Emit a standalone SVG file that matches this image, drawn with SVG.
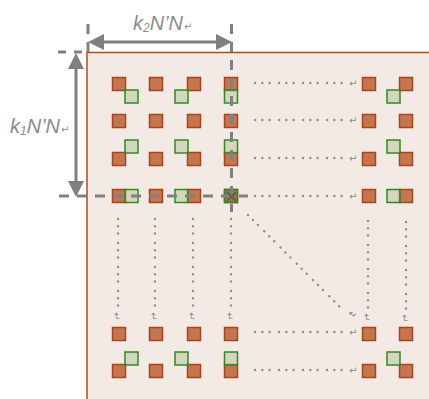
<svg xmlns="http://www.w3.org/2000/svg" width="429" height="399" viewBox="0 0 429 399">
<defs>
<style>
.o{fill:#c4764f;stroke:#a9441c;stroke-width:1.5}
.g{fill:#a8c28c;fill-opacity:0.45;stroke:#2f8a22;stroke-width:1.5}
.dash{stroke:#808080;stroke-width:3;stroke-dasharray:10 8;fill:none}
.dot{stroke:#8f8f8f;stroke-width:2.5;stroke-linecap:round;stroke-dasharray:0 7.3 0 7.3 0 9.4;fill:none}
.arr{stroke:#7f7f7f;stroke-width:3;fill:none}
.ah{fill:#7f7f7f}
.lbl{font-family:"Liberation Sans",Arial,sans-serif;font-style:italic;font-size:20px;fill:#8c8c8c}
.pm{font-family:"DejaVu Sans",sans-serif;font-size:10px;fill:#8a8a8a;font-style:normal}
</style>
</defs>
<rect x="87" y="52.5" width="345" height="350" fill="#f4eae5" stroke="#b34a1f" stroke-width="1.5"/>

<g id="nodes">
<g id="o11"><rect class="o" x="112.5" y="77.5" width="13" height="13"/></g>
<g id="o12"><rect class="o" x="149.5" y="77.5" width="13" height="13"/></g>
<g id="o13"><rect class="o" x="187.5" y="77.5" width="13" height="13"/></g>
<g id="o14"><rect class="o" x="224.5" y="77.5" width="13" height="13"/></g>
<g id="o15"><rect class="o" x="362.5" y="77.5" width="13" height="13"/></g>
<g id="o16"><rect class="o" x="399.5" y="77.5" width="13" height="13"/></g>

<g id="o21"><rect class="o" x="112.5" y="114.5" width="13" height="13"/></g>
<g id="o22"><rect class="o" x="149.5" y="114.5" width="13" height="13"/></g>
<g id="o23"><rect class="o" x="187.5" y="114.5" width="13" height="13"/></g>
<g id="o24"><rect class="o" x="224.5" y="114.5" width="13" height="13"/></g>
<g id="o25"><rect class="o" x="362.5" y="114.5" width="13" height="13"/></g>
<g id="o26"><rect class="o" x="399.5" y="114.5" width="13" height="13"/></g>

<g id="o31"><rect class="o" x="112.5" y="152.5" width="13" height="13"/></g>
<g id="o32"><rect class="o" x="149.5" y="152.5" width="13" height="13"/></g>
<g id="o33"><rect class="o" x="187.5" y="152.5" width="13" height="13"/></g>
<g id="o34"><rect class="o" x="224.5" y="152.5" width="13" height="13"/></g>
<g id="o35"><rect class="o" x="362.5" y="152.5" width="13" height="13"/></g>
<g id="o36"><rect class="o" x="399.5" y="152.5" width="13" height="13"/></g>

<g id="o41"><rect class="o" x="112.5" y="189.5" width="13" height="13"/></g>
<g id="o42"><rect class="o" x="149.5" y="189.5" width="13" height="13"/></g>
<g id="o43"><rect class="o" x="187.5" y="189.5" width="13" height="13"/></g>
<g id="o44"><rect class="o" x="224.5" y="189.5" width="13" height="13"/></g>
<g id="o45"><rect class="o" x="362.5" y="189.5" width="13" height="13"/></g>
<g id="o46"><rect class="o" x="399.5" y="189.5" width="13" height="13"/></g>

<g id="o51"><rect class="o" x="112.5" y="327.5" width="13" height="13"/></g>
<g id="o52"><rect class="o" x="149.5" y="327.5" width="13" height="13"/></g>
<g id="o53"><rect class="o" x="187.5" y="327.5" width="13" height="13"/></g>
<g id="o54"><rect class="o" x="224.5" y="327.5" width="13" height="13"/></g>
<g id="o55"><rect class="o" x="362.5" y="327.5" width="13" height="13"/></g>
<g id="o56"><rect class="o" x="399.5" y="327.5" width="13" height="13"/></g>

<g id="o61"><rect class="o" x="112.5" y="364.5" width="13" height="13"/></g>
<g id="o62"><rect class="o" x="149.5" y="364.5" width="13" height="13"/></g>
<g id="o63"><rect class="o" x="187.5" y="364.5" width="13" height="13"/></g>
<g id="o64"><rect class="o" x="224.5" y="364.5" width="13" height="13"/></g>
<g id="o65"><rect class="o" x="362.5" y="364.5" width="13" height="13"/></g>
<g id="o66"><rect class="o" x="399.5" y="364.5" width="13" height="13"/></g>

<g id="g11"><rect class="g" x="125" y="90" width="13" height="13"/></g>
<g id="g13"><rect class="g" x="175" y="90" width="13" height="13"/></g>
<g id="g14"><rect class="g" x="224.5" y="90" width="13" height="13"/></g>
<g id="g16"><rect class="g" x="387" y="90" width="13" height="13"/></g>

<g id="g31"><rect class="g" x="125" y="140" width="13" height="13"/></g>
<g id="g33"><rect class="g" x="175" y="140" width="13" height="13"/></g>
<g id="g34"><rect class="g" x="224.5" y="140" width="13" height="13"/></g>
<g id="g36"><rect class="g" x="387" y="140" width="13" height="13"/></g>

<g id="g41"><rect class="g" x="125" y="189.5" width="13" height="13"/></g>
<g id="g43"><rect class="g" x="175" y="189.5" width="13" height="13"/></g>
<g id="g44"><rect class="g" x="224.5" y="189.5" width="13" height="13" style="fill:#6e7a3a;fill-opacity:0.6"/></g>
<g id="g46"><rect class="g" x="387" y="189.5" width="13" height="13"/></g>

<g id="g61"><rect class="g" x="125" y="352" width="13" height="13"/></g>
<g id="g63"><rect class="g" x="175" y="352" width="13" height="13"/></g>
<g id="g64"><rect class="g" x="224.5" y="352" width="13" height="13"/></g>
<g id="g66"><rect class="g" x="387" y="352" width="13" height="13"/></g>
</g>

<g id="connectors">
<line class="dot" x1="255" y1="83" x2="344" y2="83"/>
<line class="dot" x1="255" y1="120" x2="344" y2="120"/>
<line class="dot" x1="255" y1="158" x2="344" y2="158"/>
<line class="dot" x1="255" y1="196" x2="344" y2="196"/>
<line class="dot" x1="255" y1="332" x2="344" y2="332"/>
<line class="dot" x1="255" y1="370" x2="344" y2="370"/>
<line class="dot" x1="118" y1="219" x2="118" y2="308"/>
<line class="dot" x1="155" y1="219" x2="155" y2="308"/>
<line class="dot" x1="193" y1="219" x2="193" y2="308"/>
<line class="dot" x1="231" y1="219" x2="231" y2="308"/>
<line class="dot" x1="368" y1="221" x2="368" y2="310"/>
<line class="dot" x1="406" y1="222" x2="406" y2="311"/>
<line class="dot" x1="248" y1="215" x2="344" y2="311" style="stroke-dasharray:0 7 0 7 0 9"/>

<line class="dash" x1="88" y1="24" x2="88" y2="52"/>
<line class="dash" x1="231.5" y1="24" x2="231.5" y2="212"/>
<line class="dash" x1="58" y1="52" x2="87" y2="52" style="stroke-dasharray:8 8"/>
<line class="dash" x1="59" y1="196" x2="248" y2="196"/>
<path d="M227,192 L236,201 M236,192 L227,201" stroke="#5a5a4a" stroke-width="1.5"/>

<line class="arr" x1="100" y1="42" x2="220" y2="42"/>
<path class="ah" d="M88,42 L104,34 L104,50 Z"/>
<path class="ah" d="M232,42 L216,34 L216,50 Z"/>
<line class="arr" x1="76" y1="64" x2="76" y2="185"/>
<path class="ah" d="M76,53 L68,69 L84,69 Z"/>
<path class="ah" d="M76,197 L68,181 L84,181 Z"/>
</g>

<g id="marks">
<text class="pm" x="349" y="87">↵</text>
<text class="pm" x="349" y="124">↵</text>
<text class="pm" x="349" y="162">↵</text>
<text class="pm" x="349" y="200">↵</text>
<text class="pm" x="349" y="336">↵</text>
<text class="pm" x="349" y="374">↵</text>
<text class="pm" transform="translate(113,312) rotate(90)">↵</text>
<text class="pm" transform="translate(150,312) rotate(90)">↵</text>
<text class="pm" transform="translate(188,312) rotate(90)">↵</text>
<text class="pm" transform="translate(226,312) rotate(90)">↵</text>
<text class="pm" transform="translate(363,313) rotate(90)">↵</text>
<text class="pm" transform="translate(401,314) rotate(90)">↵</text>
<text class="pm" transform="translate(347,314) rotate(45)">↵</text>
</g>

<g id="labels">
<text class="lbl" x="133" y="30">k<tspan font-size="12" dy="2">2</tspan><tspan dy="-2">N’N</tspan><tspan class="pm" dx="1">↵</tspan></text>
<text class="lbl" x="10" y="133">k<tspan font-size="12" dy="2">1</tspan><tspan dy="-2">N’N</tspan><tspan class="pm" dx="1">↵</tspan></text>
</g>
</svg>
